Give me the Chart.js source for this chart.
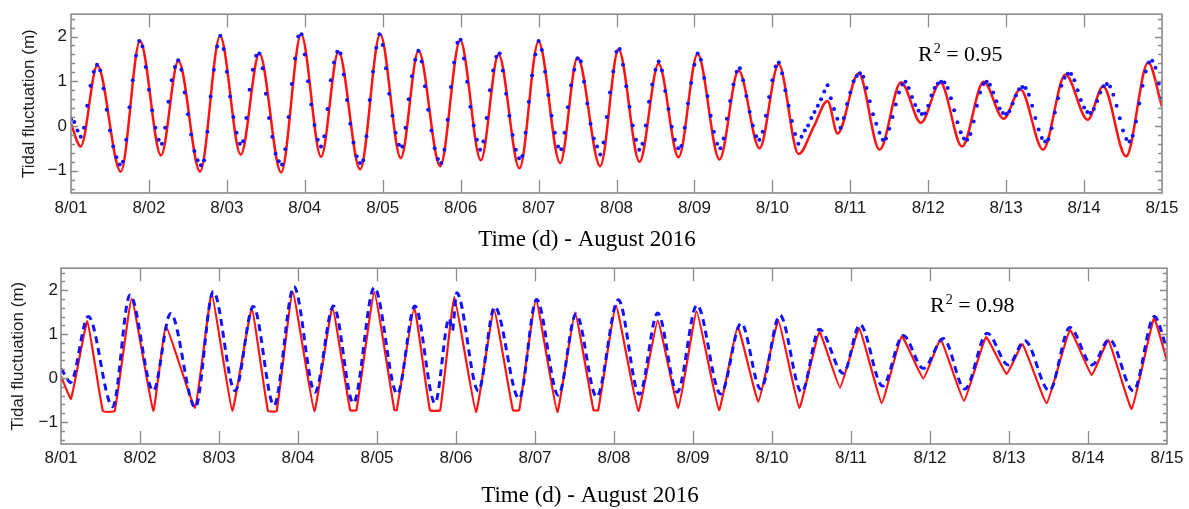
<!DOCTYPE html>
<html>
<head>
<meta charset="utf-8">
<title>Tidal fluctuation – August 2016</title>
<script src="https://cdn.jsdelivr.net/npm/chart.js@4.4.1/dist/chart.umd.min.js"></script>
<style>
  html, body { margin: 0; padding: 0; background: #fff; }
  #wrap { position: relative; width: 1189px; height: 509px; overflow: hidden; }
  .panel { position: absolute; left: 0; width: 1189px; }
</style>
</head>
<body>
<div id="wrap">
  <div class="panel" style="top:0;height:255px"><canvas id="topChart"></canvas></div>
  <div class="panel" style="top:255px;height:254px"><canvas id="bottomChart"></canvas></div>
</div>
<script>
// Axis labels
const dayLabels = ['8/01','8/02','8/03','8/04','8/05','8/06','8/07','8/08',
                   '8/09','8/10','8/11','8/12','8/13','8/14','8/15'];
const levelTicks = [-1, 0, 1, 2];

// Upper panel: hourly measured levels (m), one value per hour from 8/01 00:00
const topDotLevels = [
  0.15, 0.09,-0.10,-0.24,-0.04, 0.45, 0.90, 1.21, 1.37, 1.24, 0.84, 0.36,-0.10,-0.46,-0.70,-0.86,-0.80,-0.31, 0.42, 1.02, 1.57, 1.90, 1.78, 1.32,
  0.81, 0.35,-0.04,-0.31,-0.40,-0.04, 0.54, 1.02, 1.32, 1.47, 1.26, 0.75, 0.26,-0.19,-0.56,-0.77,-0.88,-0.77,-0.13, 0.66, 1.26, 1.78, 2.02, 1.72,
  1.21, 0.66, 0.20,-0.15,-0.40,-0.34, 0.18, 0.81, 1.26, 1.57, 1.62, 1.29, 0.72, 0.18,-0.24,-0.62,-0.79,-0.86,-0.52, 0.20, 0.94, 1.51, 2.00, 2.05,
  1.60, 1.00, 0.48, 0.02,-0.31,-0.46,-0.23, 0.38, 1.02, 1.42, 1.66, 1.62, 1.15, 0.58, 0.05,-0.37,-0.68,-0.83,-0.77,-0.23, 0.58, 1.21, 1.75, 2.05,
  1.81, 1.29, 0.72, 0.23,-0.15,-0.42,-0.46,-0.04, 0.60, 1.11, 1.48, 1.68, 1.44, 0.89, 0.36,-0.10,-0.50,-0.74,-0.83,-0.53, 0.14, 0.87, 1.42, 1.86,
  1.93, 1.51, 0.99, 0.43, 0.01,-0.31,-0.53,-0.35, 0.18, 0.80, 1.24, 1.55, 1.62, 1.24, 0.72, 0.23,-0.20,-0.53,-0.72,-0.67,-0.15, 0.54, 1.13, 1.60,
  1.90, 1.70, 1.21, 0.69, 0.23,-0.15,-0.46,-0.52,-0.15, 0.42, 0.91, 1.26, 1.51, 1.45, 0.99, 0.50, 0.05,-0.28,-0.46,-0.64,-0.37, 0.20, 0.75, 1.22,
  1.66, 1.72, 1.37, 0.89, 0.43, 0.01,-0.31,-0.53,-0.40, 0.01, 0.54, 0.93, 1.26, 1.44, 1.24, 0.78, 0.38,-0.02,-0.31,-0.50,-0.45,-0.04, 0.50, 0.96,
  1.37, 1.62, 1.48, 1.07, 0.67, 0.23,-0.13,-0.40,-0.50,-0.28, 0.16, 0.56, 0.93, 1.21, 1.29, 1.02, 0.67, 0.32, 0.01,-0.23,-0.31,-0.13, 0.23, 0.65,
  1.02, 1.33, 1.42, 1.18, 0.80, 0.45, 0.11,-0.18,-0.40,-0.24,-0.10, 0.01, 0.18, 0.31, 0.45, 0.60, 0.77, 0.91, 0.62, 0.38, 0.16,-0.04, 0.18, 0.49,
  0.75, 1.00, 1.12, 1.18, 1.10, 0.85, 0.55, 0.26, 0.05,-0.15,-0.31,-0.28,-0.06, 0.20, 0.48, 0.75, 0.93, 0.99, 0.85, 0.65, 0.47, 0.34, 0.27, 0.28,
  0.45, 0.68, 0.85, 0.95, 0.99, 0.97, 0.85, 0.62, 0.35, 0.08,-0.14,-0.28,-0.31,-0.18, 0.10, 0.45, 0.75, 0.94, 0.99, 0.92, 0.75, 0.55, 0.39, 0.29,
  0.27, 0.33, 0.50, 0.68, 0.82, 0.87, 0.85, 0.70, 0.45, 0.18,-0.08,-0.27,-0.35,-0.30,-0.05, 0.30, 0.62, 0.90, 1.08, 1.17, 1.16, 1.02, 0.80, 0.58,
  0.41, 0.31, 0.29, 0.38, 0.56, 0.75, 0.89, 0.94, 0.88, 0.70, 0.45, 0.17,-0.10,-0.29,-0.35,-0.22, 0.10, 0.50, 0.90, 1.22, 1.42, 1.46, 1.30, 0.95, 0.62
];

// Upper panel: simulated curve, turning points (day, m)
const topLineDays = [0, 0.124, 0.338, 0.638, 0.886, 1.155, 1.378, 1.656, 1.913, 2.178, 2.417, 2.696, 2.953,
  3.209, 3.432, 3.710, 3.967, 4.232, 4.459, 4.737, 4.994, 5.259, 5.486, 5.755, 5.999, 6.277, 6.500, 6.791,
  7.026, 7.296, 7.540, 7.796, 8.040, 8.322, 8.566, 8.836, 9.080, 9.337, 9.53, 9.709, 9.837, 10.107, 10.376,
  10.651, 10.907, 11.155, 11.434, 11.711, 11.968, 12.182, 12.474, 12.760, 13.047, 13.244, 13.539, 13.822, 14.0];
const topLineLevels = [0.05, -0.46, 1.35, -1.02, 1.90, -0.66, 1.46, -1.02, 2.01, -0.64, 1.62, -1.04, 2.05,
  -0.69, 1.66, -0.97, 2.05, -0.72, 1.68, -0.90, 1.92, -0.77, 1.60, -0.95, 1.89, -0.83, 1.53, -0.90,
  1.71, -0.80, 1.39, -0.70, 1.61, -0.75, 1.24, -0.50, 1.38, -0.63, -0.02, 0.56, -0.17, 1.18, -0.53,
  0.98, 0.07, 0.97, -0.46, 0.99, 0.16, 0.82, -0.53, 1.15, 0.14, 0.89, -0.68, 1.42, 0.43];

// Lower panel: simulated curve (solid)
const bottomLineDays = [0, 0.127, 0.333, 0.53, 0.68, 0.895, 1.168, 1.329, 1.696, 1.907, 2.168, 2.414, 2.62, 2.73,
  2.933, 3.207, 3.435, 3.66, 3.74, 3.966, 4.22, 4.25, 4.472, 4.67, 4.80, 4.979, 5.253, 5.481, 5.72, 5.80,
  6.013, 6.282, 6.506, 6.74, 6.80, 7.025, 7.308, 7.553, 7.814, 8.047, 8.329, 8.566, 8.827, 9.080, 9.346,
  9.599, 9.861, 10.105, 10.388, 10.642, 10.916, 11.135, 11.43, 11.709, 11.97, 12.17, 12.477, 12.772,
  13.047, 13.257, 13.553, 13.835, 14.0];
const bottomLineLevels = [0.04, -0.47, 1.29, -0.75, -0.75, 1.81, -0.74, 1.18, -0.67, 1.94, -0.74, 1.58, -0.75, -0.75,
  1.97, -0.75, 1.61, -0.73, -0.73, 1.95, -0.73, -0.73, 1.61, -0.73, -0.73, 1.84, -0.77, 1.56, -0.73, -0.73,
  1.79, -0.77, 1.49, -0.73, -0.73, 1.65, -0.75, 1.31, -0.68, 1.52, -0.73, 1.17, -0.54, 1.31, -0.68,
  1.05, -0.22, 1.13, -0.57, 0.95, -0.01, 0.88, -0.52, 0.93, 0.09, 0.77, -0.57, 1.09,
  0.07, 0.86, -0.70, 1.36, 0.39];

// Lower panel: measured curve (dashed)
const bottomDashDays = [0, 0.06, 0.12, 0.346, 0.654, 0.873, 1.168, 1.388, 1.70, 1.928, 2.203, 2.434, 2.696, 2.949,
  3.215, 3.45, 3.70, 3.966, 4.257, 4.48, 4.734, 4.915, 4.953, 5.009, 5.283, 5.49, 5.80, 6.02, 6.295, 6.52,
  6.78, 7.055, 7.32, 7.553, 7.80, 8.05, 8.35, 8.61, 8.857, 9.10, 9.375, 9.60, 9.903, 10.114, 10.40, 10.66,
  10.916, 11.17, 11.44, 11.725, 11.99, 12.2, 12.51, 12.77, 13.05, 13.27, 13.575, 13.84, 14.0];
const bottomDashLevels = [0.22, 0.04, -0.10, 1.40, -0.65, 1.89, -0.29, 1.47, -0.67, 1.97, -0.29, 1.63, -0.62, 2.08,
  -0.32, 1.64, -0.57, 2.06, -0.36, 1.64, -0.57, 1.36, 1.08, 1.94, -0.29, 1.62, -0.47, 1.79, -0.39, 1.46,
  -0.43, 1.78, -0.37, 1.48, -0.32, 1.66, -0.36, 1.25, -0.25, 1.43, -0.32, 1.11, 0.11, 1.22, -0.18, 0.97,
  0.22, 0.90, -0.25, 1.02, 0.30, 0.85, -0.29, 1.15, 0.30, 0.88, -0.29, 1.40, 0.65];

const SANS = '"Liberation Sans", Arial, sans-serif';
const SERIF = '"Liberation Serif", "Times New Roman", serif';
const RED = '#ff1414';
const BLUE = '#1212ff';

const pairs = (xs, ys) => xs.map((x, i) => ({ x, y: ys[i] }));

// Frame with inward ticks, fit statistic and time caption
const framePlugin = {
  id: 'frame',
  afterDatasetsDraw(chart, args, opts) {
    const { ctx, chartArea: a, scales: { x, y } } = chart;
    ctx.save();
    ctx.strokeStyle = '#8a8a8a';
    ctx.lineWidth = 1.6;
    ctx.strokeRect(a.left, a.top, a.right - a.left, a.bottom - a.top);
    ctx.beginPath();
    for (let d = 1; d < dayLabels.length - 1; d++) {
      const px = Math.round(x.getPixelForValue(d)) + 0.5;
      ctx.moveTo(px, a.bottom); ctx.lineTo(px, a.bottom - 13);
      ctx.moveTo(px, a.top); ctx.lineTo(px, a.top + 13);
    }
    for (let k = -7; k <= 12; k++) {
      const py = Math.round(y.getPixelForValue(k / 5)) + 0.5;
      const len = (k % 5 === 0) ? 7 : 4;
      ctx.moveTo(a.left, py); ctx.lineTo(a.left + len, py);
      ctx.moveTo(a.right, py); ctx.lineTo(a.right - len, py);
    }
    ctx.lineWidth = 1.3;
    ctx.stroke();

    // R² annotation
    ctx.fillStyle = '#000';
    ctx.textBaseline = 'alphabetic';
    ctx.textAlign = 'left';
    let tx = opts.rx;
    ctx.font = '22px ' + SERIF;
    ctx.fillText('R', tx, opts.ry);
    tx += ctx.measureText('R').width + 1;
    ctx.font = '14px ' + SERIF;
    ctx.fillText('2', tx, opts.ry - 8);
    tx += ctx.measureText('2').width;
    ctx.font = '22px ' + SERIF;
    ctx.fillText(' = ' + opts.r2, tx, opts.ry);

    // x-axis caption
    ctx.font = '23px ' + SERIF;
    ctx.textAlign = 'center';
    ctx.textBaseline = 'middle';
    ctx.fillText('Time (d) - August 2016', opts.capX, opts.capY);
    ctx.restore();
  }
};

function panelOptions(c) {
  return {
    responsive: true,
    maintainAspectRatio: false,
    animation: false,
    events: [],
    layout: { padding: { left: 0, right: c.padRight, top: c.padTop, bottom: 0 } },
    plugins: {
      legend: { display: false },
      tooltip: { enabled: false },
      frame: { rx: c.rx, ry: c.ry, r2: c.r2, capX: c.capX, capY: c.capY }
    },
    scales: {
      x: {
        type: 'linear', min: 0, max: 14,
        grid: { display: false, drawTicks: false },
        border: { display: false },
        ticks: {
          stepSize: 1, autoSkip: false, maxRotation: 0, padding: c.xTickPad,
          color: '#1a1a1a', font: { family: SANS, size: 17 },
          callback: v => dayLabels[v]
        },
        afterFit: s => { s.height = c.xHeight; }
      },
      y: {
        type: 'linear', min: -1.5, max: 2.5,
        grid: { display: false, drawTicks: false },
        border: { display: false },
        afterBuildTicks: s => { s.ticks = levelTicks.map(v => ({ value: v })); },
        ticks: {
          padding: c.yTickPad, color: '#1a1a1a', font: { family: SANS, size: 17 },
          callback: v => v < 0 ? '\u2212' + Math.abs(v) : String(v)
        },
        title: {
          display: true, text: 'Tidal fluctuation (m)', color: '#1a1a1a',
          font: { family: SANS, size: 17 }, padding: { top: c.yTitlePad, bottom: 0 }
        },
        afterFit: s => { s.width = c.yWidth; }
      }
    }
  };
}

new Chart(document.getElementById('topChart'), {
  type: 'line',
  data: {
    datasets: [
      {
        data: topDotLevels.map((v, h) => ({ x: h / 24, y: v })),
        showLine: false, pointRadius: 2, pointBorderWidth: 0,
        pointBackgroundColor: BLUE
      },
      {
        data: pairs(topLineDays, topLineLevels),
        borderColor: RED, borderWidth: 2.5, pointRadius: 0,
        cubicInterpolationMode: 'monotone'
      }
    ]
  },
  options: panelOptions({
    padRight: 27, padTop: 12, xHeight: 62, yWidth: 71, xTickPad: 5, yTickPad: 4, yTitlePad: 19,
    rx: 918, ry: 61, r2: '0.95', capX: 587, capY: 240
  }),
  plugins: [framePlugin]
});

new Chart(document.getElementById('bottomChart'), {
  type: 'line',
  data: {
    datasets: [
      {
        data: pairs(bottomDashDays, bottomDashLevels),
        borderColor: BLUE, borderWidth: 3, borderDash: [7, 5], pointRadius: 0,
        cubicInterpolationMode: 'monotone'
      },
      {
        data: pairs(bottomLineDays, bottomLineLevels),
        borderColor: RED, borderWidth: 2.2, pointRadius: 0, tension: 0.1
      }
    ]
  },
  options: panelOptions({
    padRight: 22, padTop: 4, xHeight: 65, yWidth: 61, xTickPad: 4, yTickPad: 3, yTitlePad: 8,
    rx: 930, ry: 57, r2: '0.98', capX: 590, capY: 241
  }),
  plugins: [framePlugin]
});
</script>
</body>
</html>
